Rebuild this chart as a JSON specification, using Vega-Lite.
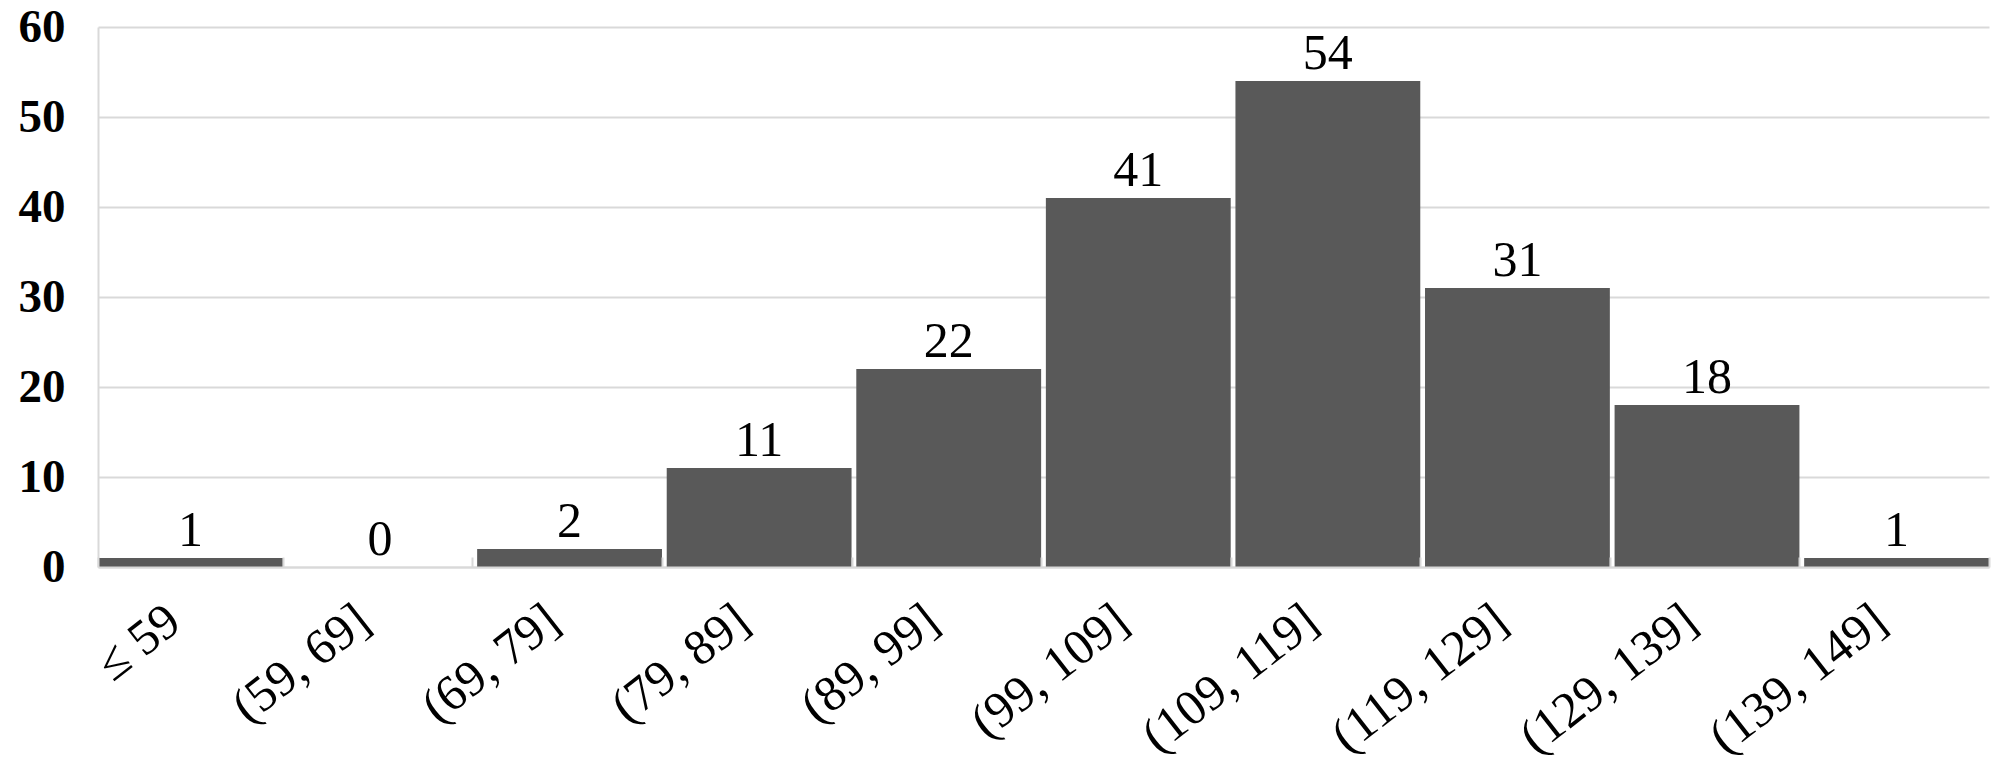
{
  "$schema": "https://vega.github.io/schema/vega-lite/v6.json",
  "autosize": {"type": "none"},
  "width": 1891,
  "height": 540,
  "padding": {"left": 98, "top": 27, "right": 11, "bottom": 202},
  "background": "white",
  "data": {
    "values": [
      {"range": "≤ 59", "count": 1},
      {"range": "(59, 69]", "count": 0},
      {"range": "(69, 79]", "count": 2},
      {"range": "(79, 89]", "count": 11},
      {"range": "(89, 99]", "count": 22},
      {"range": "(99, 109]", "count": 41},
      {"range": "(109, 119]", "count": 54},
      {"range": "(119, 129]", "count": 31},
      {"range": "(129, 139]", "count": 18},
      {"range": "(139, 149]", "count": 1}
    ]
  },
  "config": {
    "view": {"stroke": null},
    "font": "Liberation Serif"
  },
  "encoding": {
    "x": {
      "field": "range",
      "type": "nominal",
      "sort": null,
      "scale": {"paddingInner": 0.025, "paddingOuter": 0},
      "axis": {
        "title": null,
        "labelAngle": -38,
        "labelLimit": 0,
        "labelOffset": -32,
        "labelFont": "Liberation Serif",
        "labelFontSize": 50,
        "labelColor": "#000000",
        "labelPadding": 38,
        "domainColor": "#d9d9d9",
        "domainWidth": 2,
        "tickBand": "extent",
        "tickColor": "#d9d9d9",
        "tickSize": -10,
        "tickWidth": 2,
        "zindex": 1
      }
    },
    "y": {
      "field": "count",
      "type": "quantitative",
      "scale": {"domain": [0, 60]},
      "axis": {
        "title": null,
        "values": [0, 10, 20, 30, 40, 50, 60],
        "labelFont": "Liberation Serif",
        "labelFontSize": 47,
        "labelFontWeight": "bold",
        "labelColor": "#000000",
        "labelPadding": 33,
        "ticks": false,
        "domainColor": "#d9d9d9",
        "domainWidth": 2,
        "gridColor": "#d9d9d9",
        "gridWidth": 2
      }
    }
  },
  "layer": [
    {"mark": {"type": "bar", "color": "#595959"}},
    {
      "mark": {
        "type": "text",
        "baseline": "alphabetic",
        "dy": -12,
        "fontSize": 50,
        "font": "Liberation Serif",
        "color": "#000000"
      },
      "encoding": {"text": {"field": "count", "type": "quantitative"}}
    }
  ]
}
